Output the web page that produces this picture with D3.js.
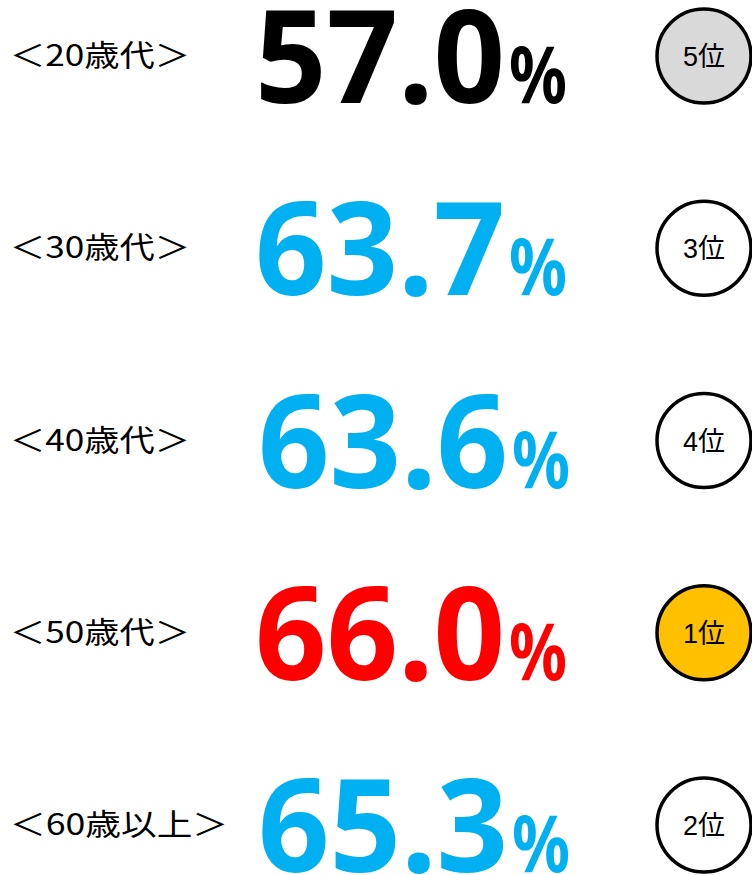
<!DOCTYPE html>
<html>
<head>
<meta charset="utf-8">
<script src="https://cdn.jsdelivr.net/npm/d3@7"></script>
<style>
  body { margin: 0; background: #fff; }
  svg { display: block; }
</style>
</head>
<body>
<div id="chart"></div>
<script>
const ageLabels = ['＜20歳代＞', '＜30歳代＞', '＜40歳代＞', '＜50歳代＞', '＜60歳以上＞']
const rates = [57.0, 63.7, 63.6, 66.0, 65.3]
const ranks = [5, 3, 4, 1, 2]

const width = 752
const height = 875

// colors by rank: top is red, bottom is black, the rest blue
const numColor = r => r === 1 ? '#ff0000' : r === 5 ? '#000000' : '#00b0f0'
const circleFill = r => r === 1 ? '#ffc000' : r === 5 ? '#d9d9d9' : '#ffffff'

const data = ageLabels.map((label, i) => ({ label, rate: rates[i], rank: ranks[i] }))

const svg = d3.select('#chart')
  .append('svg')
  .attr('width', width)
  .attr('height', height)

// row centres
const y = d3.scalePoint()
  .domain(ageLabels)
  .range([55, 824])

const row = svg.selectAll('g.row')
  .data(data)
  .enter()
  .append('g')
  .attr('class', 'row')
  .attr('transform', d => `translate(0, ${y(d.label)})`)

// age label
row.append('text')
  .attr('x', 10)
  .attr('y', 11)
  .attr('font-family', '"Noto Sans CJK JP", sans-serif')
  .attr('font-size', 30)
  .attr('fill', '#000')
  .attr('textLength', d => d.label.length > 6 ? 218 : 180)
  .attr('lengthAdjust', 'spacingAndGlyphs')
  .text(d => d.label)

// big number
row.append('text')
  .attr('x', (d, i) => i % 2 === 0 && i > 0 ? 258 : 255)
  .attr('y', 48)
  .attr('font-family', '"Noto Sans", sans-serif')
  .attr('font-weight', 700)
  .attr('font-size', 130)
  .attr('fill', d => numColor(d.rank))
  .attr('textLength', 250)
  .attr('lengthAdjust', 'spacingAndGlyphs')
  .text(d => d3.format('.1f')(d.rate))

// percent sign
row.append('text')
  .attr('x', (d, i) => i % 2 === 0 && i > 0 ? 512 : 509)
  .attr('y', 48)
  .attr('font-family', '"Noto Sans", sans-serif')
  .attr('font-weight', 700)
  .attr('font-size', 78)
  .attr('fill', d => numColor(d.rank))
  .attr('textLength', 58)
  .attr('lengthAdjust', 'spacingAndGlyphs')
  .text('%')

// rank badge
row.append('ellipse')
  .attr('cx', 704)
  .attr('cy', 1)
  .attr('rx', 47)
  .attr('ry', 47)
  .attr('fill', d => circleFill(d.rank))
  .attr('stroke', '#000')
  .attr('stroke-width', 3.5)

row.append('text')
  .attr('x', 704)
  .attr('y', 11)
  .attr('text-anchor', 'middle')
  .attr('font-family', '"Liberation Sans", "Noto Sans CJK JP", sans-serif')
  .attr('font-size', 27)
  .attr('fill', '#000')
  .text(d => d.rank + '位')
</script>
</body>
</html>
